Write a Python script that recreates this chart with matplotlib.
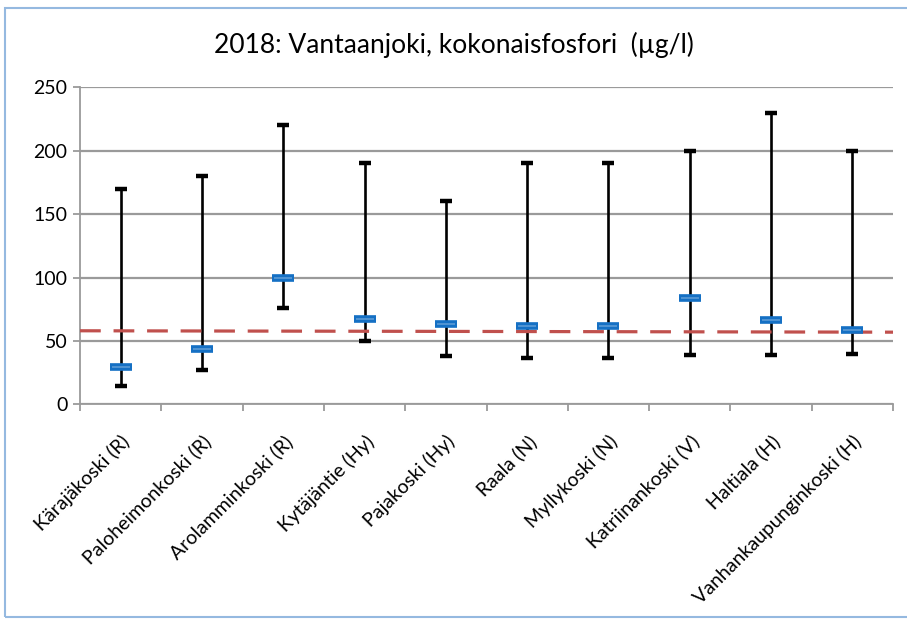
import matplotlib.pyplot as plt
from matplotlib.patches import Rectangle
import numpy as np

plt.rcParams['font.family'] = ['Lato', 'DejaVu Sans']

sites = ['Kärajäkoski (R)', 'Paloheimonkoski (R)', 'Arolamminkoski (R)',
         'Kytäjäntie (Hy)', 'Pajakoski (Hy)', 'Raala (N)', 'Myllykoski (N)',
         'Katriinankoski (V)', 'Haltiala (H)', 'Vanhankaupunginkoski (H)']
p_max = [170, 180, 220, 190, 160, 190, 190, 200, 230, 200]
p_min = [14.5, 27, 76, 50, 38.5, 36.5, 36.5, 39, 39, 40]
p_mean = [29.5, 43.5, 100, 67, 63, 61.5, 61.5, 83.5, 66.5, 59]
# dashed reference line, value at left and right end of the plot
ref_line = [58.0, 56.9]

fig = plt.figure(figsize=(9.07, 6.19), dpi=100)
ax = fig.add_axes([0.0882, 0.3468, 0.8964, 0.5122])

x = np.arange(len(sites))

ax.vlines(x, p_min, p_max, color='black', lw=1.9, zorder=3)
ax.plot(x, p_max, ls='none', marker='_', ms=9, mew=3.2, color='black', zorder=4)
ax.plot(x, p_min, ls='none', marker='_', ms=9, mew=3.2, color='black', zorder=4)

ax.plot([-0.5, len(sites) - 0.5], ref_line, color='#C0504D', lw=2.3,
        ls=(0, (6.5, 4)), zorder=5)

ax.plot(x, p_mean, ls='none', marker='_', ms=16, mew=5.5, color='#1570C4', zorder=6)
ax.plot(x, p_mean, ls='none', marker='_', ms=13, mew=1.2, color='#5B9BD5', zorder=7)

ax.set_xlim(-0.5, len(sites) - 0.5)
ax.set_ylim(0, 250)
ax.set_yticks(np.arange(0, 251, 50))
ax.yaxis.grid(True, color='#9A9A9A', lw=1.6)
ax.set_axisbelow(True)

ax.set_xticks(x)
ax.set_xticklabels(sites, rotation=45, ha='right', rotation_mode='anchor', fontsize=14)
ax.set_xticks(np.arange(len(sites) + 1) - 0.5, minor=True)
ax.tick_params(axis='x', which='major', length=0, pad=20)
ax.tick_params(axis='x', which='minor', length=5, width=1.3, color='#9A9A9A')
ax.tick_params(axis='y', length=5, width=1.3, color='#9A9A9A', labelsize=14, pad=4)

for s in ['top', 'right']:
    ax.spines[s].set_visible(False)
for s in ['left', 'bottom']:
    ax.spines[s].set_color('#9A9A9A')
    ax.spines[s].set_linewidth(1.3)

fig.text(0.5, 0.927, '2018: Vantaanjoki, kokonaisfosfori  (µg/l)', ha='center', va='center',
         fontsize=19)

fig.patches.append(Rectangle((0.0055, 0.003), 1.2, 0.984, transform=fig.transFigure,
                             fill=False, edgecolor='#95B9E0', lw=1.5))

fig.savefig('out.png', dpi=100)
